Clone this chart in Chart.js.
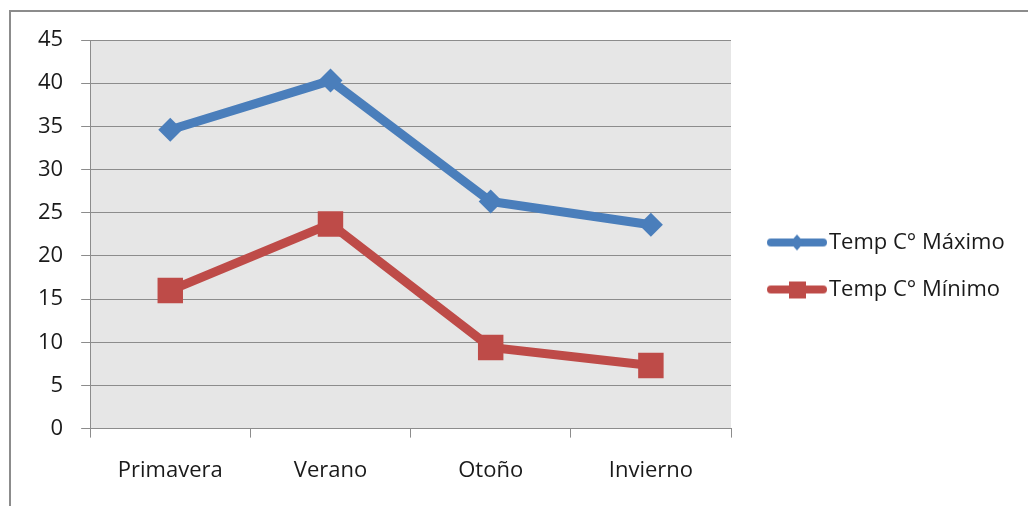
<!DOCTYPE html>
<html>
<head>
<meta charset="utf-8">
<script src="https://cdn.jsdelivr.net/npm/chart.js@4"></script>
<style>
  body { margin: 0; background: #fff; overflow: hidden; }
  #marco { position: absolute; left: 9px; top: 10px; width: 1100px; height: 600px; border: 2px solid #8c8c8c; }
  #lienzo { position: absolute; left: 0; top: 0; }
</style>
</head>
<body>
<div id="marco"></div>
<canvas id="lienzo" width="1028" height="506"></canvas>
<script>
const estaciones = ['Primavera', 'Verano', 'Otoño', 'Invierno'];
const tempMaxima = [34.6, 40.3, 26.3, 23.6];
const tempMinima = [16.0, 23.7, 9.4, 7.3];
const marcasY = [0, 5, 10, 15, 20, 25, 30, 35, 40, 45];

const azul = '#4a7ebb';
const rojo = '#be4b48';
const fuente = "'Open Sans', sans-serif";

// icono de leyenda: linea con marcador (un poco corrido a la derecha)
function iconoLeyenda(color, forma) {
  const c = document.createElement('canvas');
  c.width = 68;
  c.height = 24;
  const ctx = c.getContext('2d');
  ctx.strokeStyle = color;
  ctx.lineWidth = 8;
  ctx.lineCap = 'round';
  ctx.beginPath();
  ctx.moveTo(10, 12);
  ctx.lineTo(62, 12);
  ctx.stroke();
  ctx.fillStyle = color;
  if (forma === 'rombo') {
    ctx.beginPath();
    ctx.moveTo(36, 4);
    ctx.lineTo(43, 12);
    ctx.lineTo(36, 20);
    ctx.lineTo(29, 12);
    ctx.closePath();
    ctx.fill();
  } else {
    ctx.fillRect(28, 4, 17, 17);
  }
  return c;
}

const fondoGris = {
  id: 'fondoGris',
  beforeDraw(chart) {
    const a = chart.chartArea;
    const ctx = chart.ctx;
    ctx.save();
    ctx.fillStyle = '#e6e6e6';
    ctx.fillRect(a.left, a.top, a.right - a.left, a.bottom - a.top);
    ctx.restore();
  }
};

// la leyenda se corre un poco y no se recorta el texto
const moverLeyenda = {
  id: 'moverLeyenda',
  afterLayout(chart) {
    const lg = chart.legend;
    lg.left += 16;
    lg.right = chart.width;
    lg.width = lg.right - lg.left;
    lg.top -= 6;
    lg.bottom -= 6;
  }
};

new Chart(document.getElementById('lienzo'), {
  type: 'line',
  data: {
    labels: estaciones,
    datasets: [
      {
        label: 'Temp C° Máximo',
        data: tempMaxima,
        borderColor: azul,
        backgroundColor: azul,
        borderWidth: 9,
        pointStyle: 'rectRot',
        pointRadius: 12,
        pointHoverRadius: 12,
        pointBorderWidth: 0,
        tension: 0
      },
      {
        label: 'Temp C° Mínimo',
        data: tempMinima,
        borderColor: rojo,
        backgroundColor: rojo,
        borderWidth: 9,
        pointStyle: 'rect',
        pointRadius: 18,
        pointHoverRadius: 18,
        pointBorderWidth: 0,
        tension: 0
      }
    ]
  },
  options: {
    responsive: false,
    animation: false,
    layout: { padding: { left: 20, right: 60, top: 40, bottom: 2 } },
    plugins: {
      tooltip: { enabled: false },
      legend: {
        position: 'right',
        align: 'center',
        labels: {
          usePointStyle: true,
          pointStyleWidth: 46,
          padding: 25,
          color: '#1a1a1a',
          font: { family: fuente, size: 22 },
          generateLabels(chart) {
            return chart.data.datasets.map((ds, i) => ({
              text: ds.label,
              pointStyle: iconoLeyenda(ds.borderColor, i === 0 ? 'rombo' : 'cuadro'),
              fillStyle: ds.borderColor,
              strokeStyle: ds.borderColor,
              lineWidth: 0,
              fontColor: '#1a1a1a',
              datasetIndex: i
            }));
          }
        }
      }
    },
    scales: {
      x: {
        offset: true,
        grid: {
          offset: true,
          drawOnChartArea: false,
          drawTicks: true,
          tickLength: 9,
          color: '#8c8c8c'
        },
        border: { color: '#8c8c8c' },
        ticks: { color: '#1a1a1a', padding: 20, font: { family: fuente, size: 22 } }
      },
      y: {
        min: 0,
        max: 45,
        afterBuildTicks(axis) {
          axis.ticks = marcasY.map(v => ({ value: v }));
        },
        grid: { color: '#8c8c8c', tickLength: 9 },
        border: { color: '#8c8c8c' },
        ticks: { color: '#1a1a1a', padding: 18, font: { family: fuente, size: 22 } }
      }
    }
  },
  plugins: [fondoGris, moverLeyenda]
});
</script>
</body>
</html>
